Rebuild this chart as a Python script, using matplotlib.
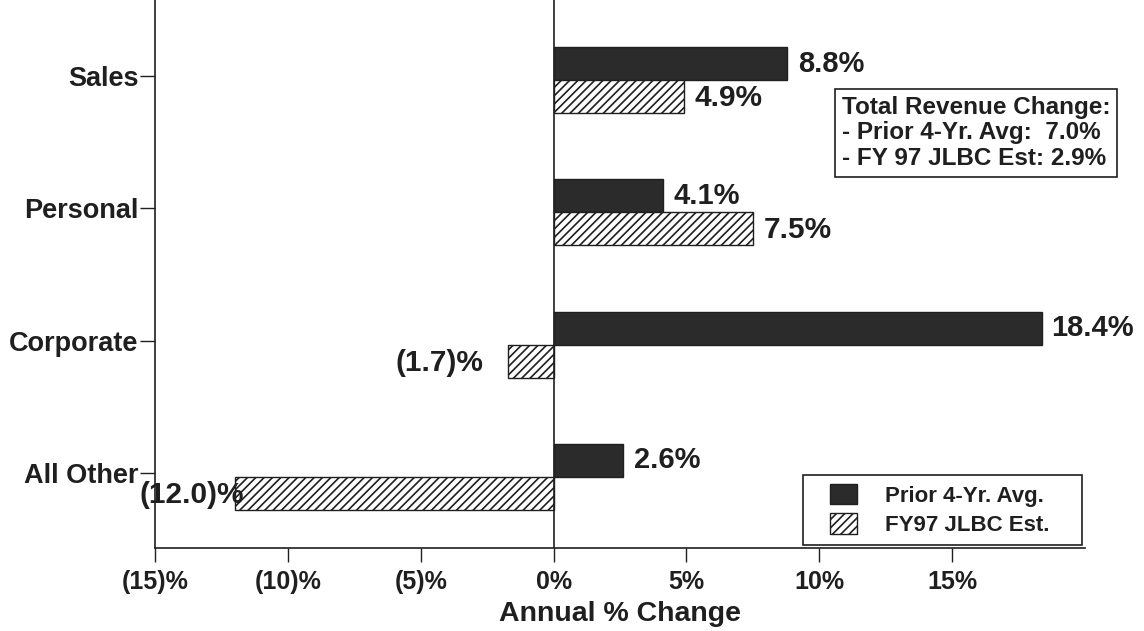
import matplotlib
matplotlib.use('Agg')
import matplotlib.pyplot as plt
from matplotlib.patches import Patch, Rectangle
from matplotlib.legend_handler import HandlerPatch
import numpy as np

# Revenue categories, top to bottom
categories = ['Sales', 'Personal', 'Corporate', 'All Other']
prior_avg = [8.8, 4.1, 18.4, 2.6]        # Prior 4-year average growth (%)
fy97_est = [4.9, 7.5, -1.7, -12.0]       # FY97 JLBC estimate (%)

x_ticks = [-15, -10, -5, 0, 5, 10, 15]
x_tick_labels = ['(15)%', '(10)%', '(5)%', '0%', '5%', '10%', '15%']
series_names = ['Prior 4-Yr. Avg.', 'FY97 JLBC Est.']
summary_lines = ['Total Revenue Change:',
                 '- Prior 4-Yr. Avg:  7.0%',
                 '- FY 97 JLBC Est: 2.9%']

# horizontal nudges (points) for the value labels
prior_dx = [8, 8, 6, 8]
est_dx = [8, 8, -18, 7]

INK = '#1f1f1f'
DARK = '#2b2b2b'

plt.rcParams['font.family'] = ['Liberation Sans', 'DejaVu Sans']
plt.rcParams['font.weight'] = 'bold'
plt.rcParams['hatch.linewidth'] = 1.2
plt.rcParams['hatch.color'] = INK


def pct(v):
    return f'({abs(v):.1f})%' if v < 0 else f'{v:.1f}%'


class InsetSwatch(HandlerPatch):
    """Legend swatch drawn as a small box pushed to the right of its slot."""

    def __init__(self, swatch_len, **kw):
        self.swatch_len = swatch_len
        super().__init__(**kw)

    def _create_patch(self, legend, orig_handle, xdescent, ydescent,
                      width, height, fontsize):
        w = self.swatch_len * fontsize
        return Rectangle((-xdescent + width - w, -ydescent), w, height)


fig = plt.figure(figsize=(11.44, 6.31), dpi=100)
ax = fig.add_axes([155 / 1144, 83 / 631, 930 / 1144, 548 / 631])

y = np.arange(len(categories))
h = 0.25
ax.barh(y - h / 2, prior_avg, height=h, color=DARK, edgecolor=INK, linewidth=1.0)
ax.barh(y + h / 2, fy97_est, height=h, color='white', edgecolor=INK,
        linewidth=1.0, hatch='////')

for yi, v, dx in zip(y, prior_avg, prior_dx):
    ax.annotate(pct(v), (v, yi - h / 2), xytext=(dx, 0),
                textcoords='offset points', ha='left' if v >= 0 else 'right',
                va='center', fontsize=21, fontweight='bold', color=INK)
for yi, v, dx in zip(y, fy97_est, est_dx):
    ax.annotate(pct(v), (v, yi + h / 2), xytext=(dx, -1),
                textcoords='offset points', ha='left' if v >= 0 else 'right',
                va='center', fontsize=21.5, fontweight='bold', color=INK)

ax.axvline(0, color=INK, linewidth=1.2, zorder=3)

ax.set_xlim(-15, 20)
ax.set_ylim(3.537, -0.605)
ax.set_xticks(x_ticks)
ax.set_xticklabels(x_tick_labels, fontsize=18, fontweight='bold', color=INK)
# category ticks sit just above the seam between each pair of bars
ax.set_yticks(y - 0.03)
ax.set_yticklabels(categories, fontsize=19.5, fontweight='bold', color=INK)
ax.tick_params(axis='x', length=10, width=1.0, pad=6, color=INK)
ax.tick_params(axis='y', length=11, width=1.0, pad=1, color=INK)
ax.set_xlabel('Annual % Change', fontsize=20.5, fontweight='bold', color=INK, labelpad=5)

for side in ('top', 'right'):
    ax.spines[side].set_visible(False)
for side in ('left', 'bottom'):
    ax.spines[side].set_color(INK)
    ax.spines[side].set_linewidth(1.2)

handles = [Patch(facecolor=DARK, edgecolor=INK, label=series_names[0]),
           Patch(facecolor='white', edgecolor=INK, hatch='////', label=series_names[1])]
leg_fs = 16
swatch = InsetSwatch(1.25)
leg = ax.legend(handles=handles, loc='lower left',
                bbox_to_anchor=(648 / 930, 3 / 548, 279 / 930, 70 / 548), mode='expand',
                borderaxespad=0, fancybox=False, framealpha=1, edgecolor=INK,
                prop={'weight': 'bold', 'size': leg_fs}, handlelength=2.05,
                handleheight=1.05, handletextpad=1.25, borderpad=0.4,
                labelspacing=0.3, handler_map={Patch: swatch})
leg.get_frame().set_linewidth(1.2)
for t in leg.get_texts():
    t.set_color(INK)

fig.text(842 / 1144, 1 - 133 / 631, '\n'.join(summary_lines), ha='left', va='center',
         fontsize=17.5, fontweight='bold', color=INK, linespacing=1.15,
         bbox=dict(boxstyle='square,pad=0.28', facecolor='white', edgecolor=INK,
                   linewidth=1.2))

fig.savefig('out.png', dpi=100)
